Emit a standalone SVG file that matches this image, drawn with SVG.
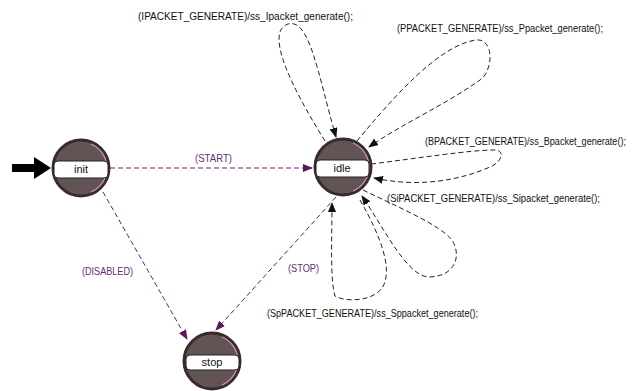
<svg xmlns="http://www.w3.org/2000/svg" width="633" height="391" viewBox="0 0 633 391">
<style>
.st{fill:#625454;stroke:#3a2b2b;stroke-width:3}
.hl{fill:none;stroke:#c890c8;stroke-width:1.2}
.lb{fill:#fff;stroke:#222;stroke-width:1}
.sn{font-family:"Liberation Sans",Arial,sans-serif;font-size:11px;fill:#111;text-anchor:middle}
.act{font-family:"Liberation Sans",Arial,sans-serif;font-size:10.5px;fill:#111}
.ae{text-anchor:end}
.tr{font-family:"Liberation Sans",Arial,sans-serif;font-size:11px;fill:#6a2a78}
.bl{fill:none;stroke:#222;stroke-width:1;stroke-dasharray:5,3}
.pu{fill:none;stroke:#6a1f6a;stroke-width:1;stroke-dasharray:5,3}
</style>
<defs>
<marker id="ab" markerWidth="10" markerHeight="8" refX="9" refY="4" orient="auto" markerUnits="userSpaceOnUse">
<path d="M0,0 L10,4 L0,8 Z" fill="#111"/>
</marker>
<marker id="ap" markerWidth="10" markerHeight="8" refX="9" refY="4" orient="auto" markerUnits="userSpaceOnUse">
<path d="M0,0 L10,4 L0,8 Z" fill="#5e145e"/>
</marker>
</defs>
<g id="connectors">
<path d="M12,168 L36,168" stroke="#000" stroke-width="8" fill="none"/>
<path d="M34,157 L51,168 L34,179 Z" fill="#000"/>
<path class="pu" d="M110,168 L312,168" marker-end="url(#ap)"/>
<path class="pu" d="M103,192 L187,339" marker-end="url(#ap)"/>
<path class="pu" d="M336,197 L216,330" marker-end="url(#ap)"/>
<path class="bl" d="M325,141 C 292,88 264,32 288,24 C 310,18 318,75 336,137" marker-end="url(#ab)"/>
<path class="bl" d="M357,141 C 395,95 440,45 476,40 C 494,38 494,70 480,80 C 445,105 400,125 369,147" marker-end="url(#ab)"/>
<path class="bl" d="M371,164 C 420,158 470,150 494,150 C 506,150 502,162 490,167 C 460,180 420,188 374,178" marker-end="url(#ab)"/>
<path class="bl" d="M363,190 C 400,208 440,225 452,240 C 462,256 455,276 430,277 C 408,278 385,230 362,196" marker-end="url(#ab)"/>
<path class="bl" d="M360,200 C 380,235 394,270 382,288 C 372,302 345,302 335,296 C 330,280 332,240 332,203" marker-end="url(#ab)"/>
</g>
<g id="init">
<circle class="st" cx="81" cy="168" r="28"/>
<path class="hl" d="M91,144 A26,26 0 0 1 91,192"/>
<rect class="lb" x="54" y="161" width="54" height="17" rx="4"/>
<text class="sn" x="81" y="173">init</text>
</g>
<g id="idle">
<circle class="st" cx="343" cy="167" r="28"/>
<path class="hl" d="M353,143 A26,26 0 0 1 353,191"/>
<rect class="lb" x="316" y="160" width="53" height="17" rx="4"/>
<text class="sn" x="342" y="172">idle</text>
</g>
<g id="stop">
<circle class="st" cx="212" cy="361" r="28"/>
<path class="hl" d="M222,337 A26,26 0 0 1 222,385"/>
<rect class="lb" x="186" y="355" width="53" height="15" rx="4"/>
<text class="sn" x="212" y="366">stop</text>
</g>
<g id="labels">
<text class="act" x="138" y="20" textLength="215" lengthAdjust="spacingAndGlyphs">(IPACKET_GENERATE)/ss_Ipacket_generate();</text>
<text class="act ae" x="603" y="32" textLength="206" lengthAdjust="spacingAndGlyphs">(PPACKET_GENERATE)/ss_Ppacket_generate();</text>
<text class="act ae" x="626" y="145" textLength="201" lengthAdjust="spacingAndGlyphs">(BPACKET_GENERATE)/ss_Bpacket_generate();</text>
<text class="act ae" x="600" y="202" textLength="213" lengthAdjust="spacingAndGlyphs">(SiPACKET_GENERATE)/ss_Sipacket_generate();</text>
<text class="act" x="267" y="317" textLength="211" lengthAdjust="spacingAndGlyphs">(SpPACKET_GENERATE)/ss_Sppacket_generate();</text>
<text class="tr" x="195" y="162" textLength="37" lengthAdjust="spacingAndGlyphs">(START)</text>
<text class="tr" x="82" y="275" textLength="51" lengthAdjust="spacingAndGlyphs">(DISABLED)</text>
<text class="tr" x="288" y="272" textLength="31" lengthAdjust="spacingAndGlyphs">(STOP)</text>
</g>
</svg>
